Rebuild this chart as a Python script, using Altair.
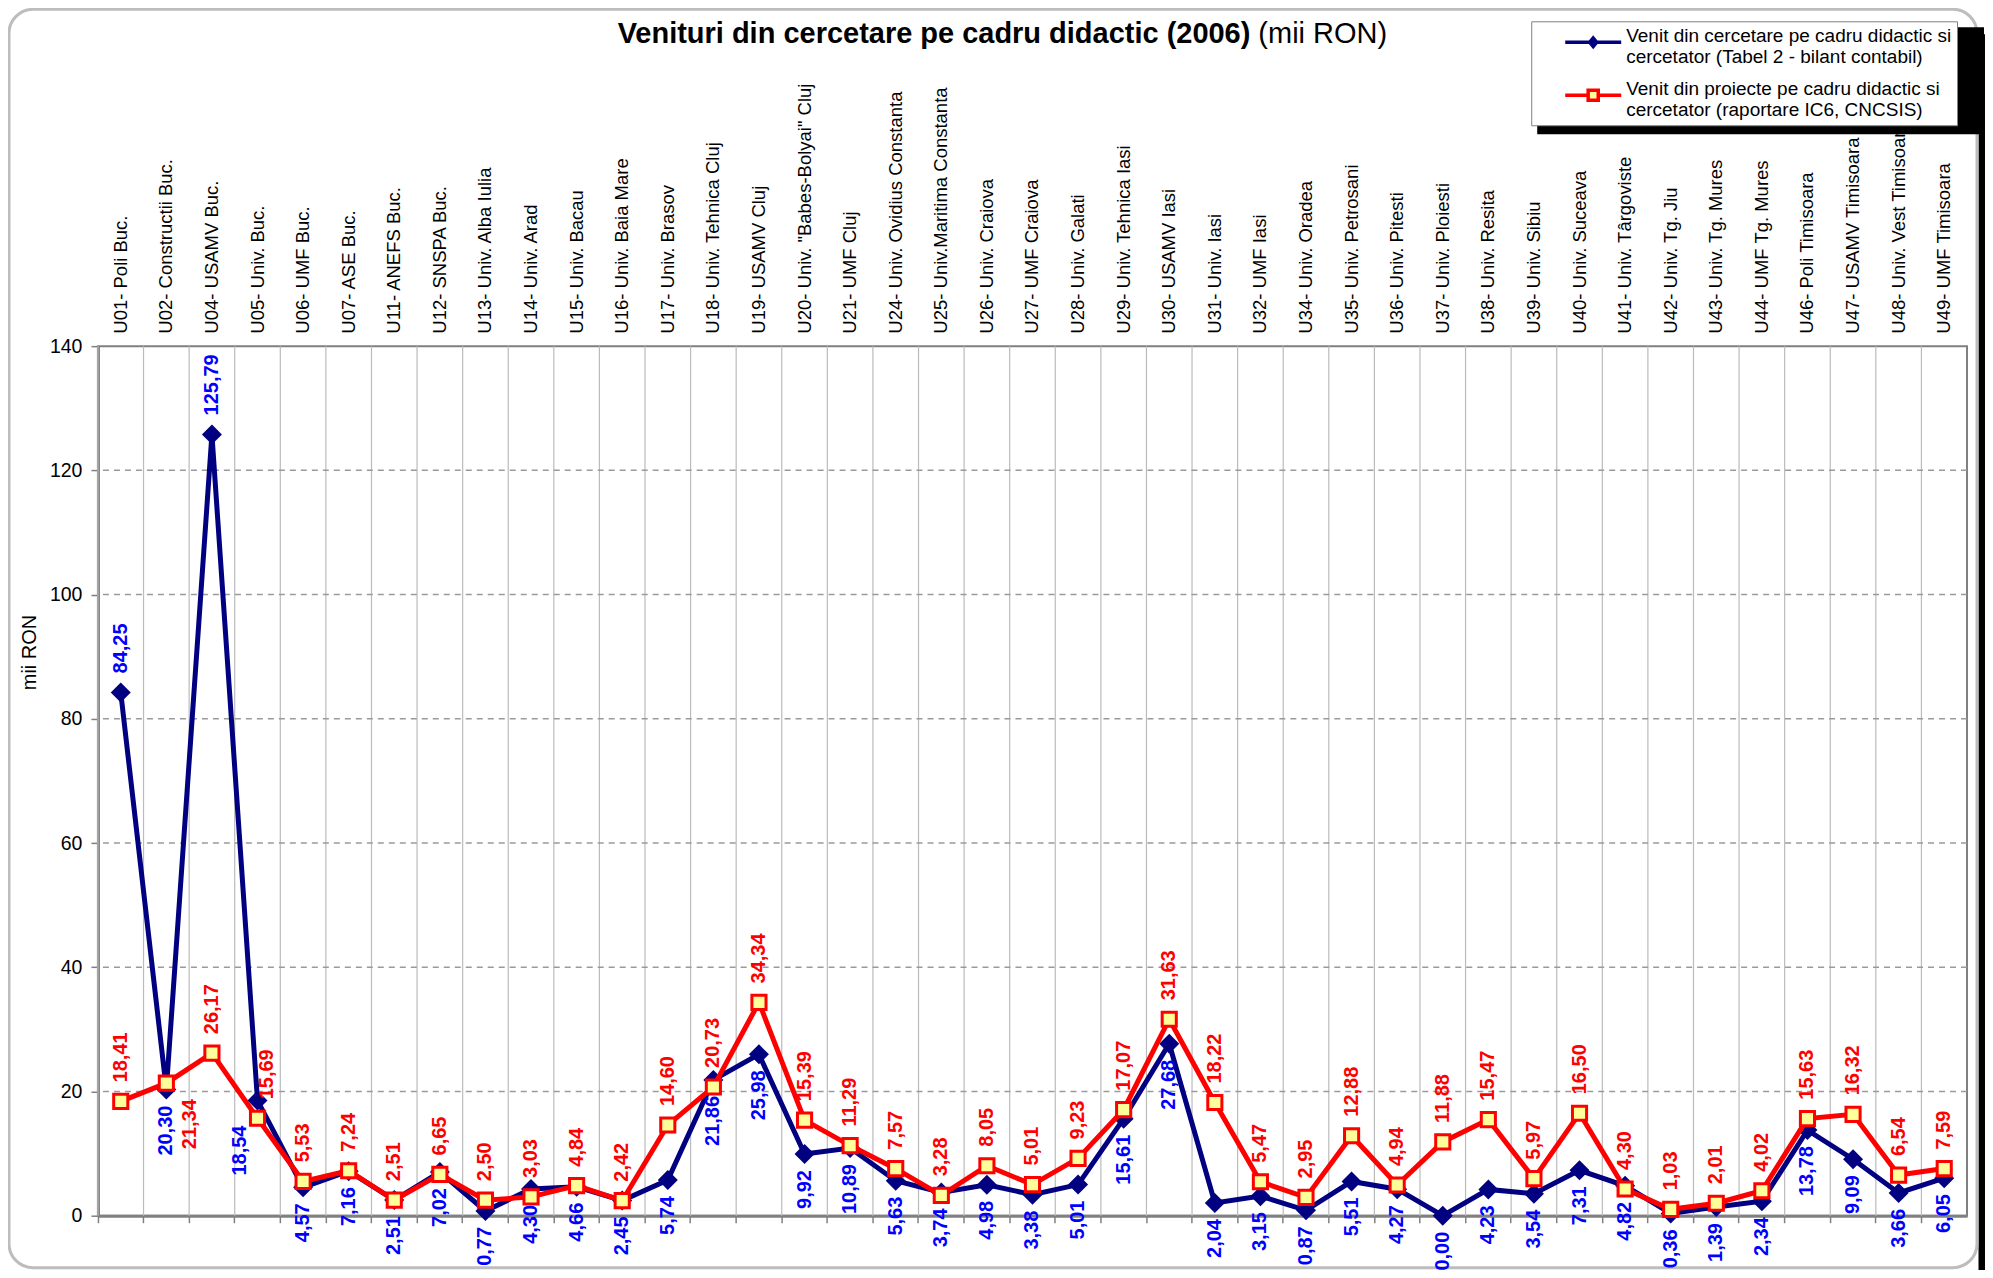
import altair as alt
import pandas as pd

categories = [
    "U01- Poli Buc.", "U02- Constructii Buc.", "U04- USAMV Buc.", "U05- Univ. Buc.",
    "U06- UMF Buc.", "U07- ASE Buc.", "U11- ANEFS Buc.", "U12- SNSPA Buc.",
    "U13- Univ. Alba Iulia", "U14- Univ. Arad", "U15- Univ. Bacau", "U16- Univ. Baia Mare",
    "U17- Univ. Brasov", "U18- Univ. Tehnica Cluj", "U19- USAMV Cluj",
    'U20- Univ. "Babes-Bolyai" Cluj', "U21- UMF Cluj", "U24- Univ. Ovidius Constanta",
    "U25- Univ.Maritima Constanta", "U26- Univ. Craiova", "U27- UMF Craiova",
    "U28- Univ. Galati", "U29- Univ. Tehnica Iasi", "U30- USAMV Iasi", "U31- Univ. Iasi",
    "U32- UMF Iasi", "U34- Univ. Oradea", "U35- Univ. Petrosani", "U36- Univ. Pitesti",
    "U37- Univ. Ploiesti", "U38- Univ. Resita", "U39- Univ. Sibiu", "U40- Univ. Suceava",
    "U41- Univ. Târgoviste", "U42- Univ. Tg. Jiu", "U43- Univ. Tg. Mures",
    "U44- UMF Tg. Mures", "U46- Poli Timisoara", "U47- USAMV Timisoara",
    "U48- Univ. Vest Timisoara", "U49- UMF Timisoara",
]

venit_cercetare = [
    84.25, 20.30, 125.79, 18.54, 4.57, 7.16, 2.51, 7.02, 0.77, 4.30, 4.66, 2.45,
    5.74, 21.86, 25.98, 9.92, 10.89, 5.63, 3.74, 4.98, 3.38, 5.01, 15.61, 27.68,
    2.04, 3.15, 0.87, 5.51, 4.27, 0.00, 4.23, 3.54, 7.31, 4.82, 0.36, 1.39, 2.34,
    13.78, 9.09, 3.66, 6.05,
]

venit_proiecte = [
    18.41, 21.34, 26.17, 15.69, 5.53, 7.24, 2.51, 6.65, 2.50, 3.03, 4.84, 2.42,
    14.60, 20.73, 34.34, 15.39, 11.29, 7.57, 3.28, 8.05, 5.01, 9.23, 17.07, 31.63,
    18.22, 5.47, 2.95, 12.88, 4.94, 11.88, 15.47, 5.97, 16.50, 4.30, 1.03, 2.01, 4.02,
    15.63, 16.32, 6.54, 7.59,
]

y_ticks = [0, 20, 40, 60, 80, 100, 120, 140]

series_names = [
    "Venit din cercetare pe cadru didactic si\ncercetator (Tabel 2 - bilant contabil)",
    "Venit din proiecte pe cadru didactic si\ncercetator (raportare IC6, CNCSIS)",
]

# label placement (Excel data labels: blue mostly below, red mostly above)
blue_labels_above = ["U01- Poli Buc.", "U04- USAMV Buc."]
blue_labels_below_left = ["U05- Univ. Buc."]
red_labels_below_right = ["U02- Constructii Buc."]
red_labels_above_right = ["U05- Univ. Buc."]

title_bold = "Venituri din cercetare pe cadru didactic (2006)"
title_rest = "(mii RON)"

FONT = "Liberation Sans"
NAVY = "#000080"
RED = "#FF0000"
YELLOW = "#FFFF99"

rows = []
for i, c in enumerate(categories):
    if c in blue_labels_above:
        bp = "above"
    elif c in blue_labels_below_left:
        bp = "below_left"
    else:
        bp = "below"
    if c in red_labels_below_right:
        rp = "below_right"
    elif c in red_labels_above_right:
        rp = "above_right"
    else:
        rp = "above"
    rows.append(dict(cat=c, series=series_names[0], value=venit_cercetare[i], pos=bp))
    rows.append(dict(cat=c, series=series_names[1], value=venit_proiecte[i], pos=rp))
df = pd.DataFrame(rows)

one = pd.DataFrame({"a": [0]})

xscale = alt.Scale(type="band", domain=categories, paddingInner=0, paddingOuter=0)
yscale = alt.Scale(domain=[0, 140], nice=False, zero=True)

top_axis = alt.Axis(orient="top", labelAngle=270, labelAlign="left", labelBaseline="middle",
                    labelPadding=13, labelFontSize=18.5, labelFont=FONT, labelColor="black",
                    labelLimit=600, labelOverlap=False, ticks=False, domain=False, grid=False,
                    title=None)
bottom_axis = alt.Axis(orient="bottom", labels=False, ticks=True, tickSize=7, tickColor="#808080",
                       tickWidth=1.5, domain=True, domainColor="#808080", domainWidth=3,
                       bandPosition=0, grid=False, title=None)
y_axis = alt.Axis(values=y_ticks, labelFontSize=19.5, labelFont=FONT, labelColor="black",
                  tickColor="#808080", tickSize=7, tickWidth=1.5, domainColor="#808080",
                  domainWidth=3, labelPadding=9, grid=False, title="mii RON",
                  titleFontSize=20, titleFont=FONT, titleFontWeight="normal", titleColor="black",
                  titleX=-58, titleY=306)

x_mid = alt.X("cat:N", scale=xscale, bandPosition=0.5, axis=None)
y_val = alt.Y("value:Q", scale=yscale, axis=y_axis)

base = alt.Chart(df).transform_calculate(lbl="replace(format(datum.value, '.2f'), '.', ',')")
blue = base.transform_filter(alt.datum.series == series_names[0])
red = base.transform_filter(alt.datum.series == series_names[1])

# decorations: rounded chart border with a shadow on the right, legend shadow, title
frame_shadow = alt.Chart(one).mark_rule(color="black", strokeWidth=7).encode(
    x=alt.value(1885), y=alt.value(-312), y2=alt.value(930))
frame = alt.Chart(one).mark_rect(fillOpacity=0, stroke="#bdbdbd", strokeWidth=3, cornerRadius=24).encode(
    x=alt.value(-89), x2=alt.value(1880), y=alt.value(-337), y2=alt.value(922))
legend_shadow = alt.Chart(one).mark_rect(color="black").encode(
    x=alt.value(1440), x2=alt.value(1887), y=alt.value(-319), y2=alt.value(-212))
t1 = alt.Chart(one).mark_text(text=title_bold, font=FONT, fontSize=29, fontWeight="bold",
                              align="right", baseline="alphabetic", color="black").encode(
    x=alt.value(1153), y=alt.value(-303))
t2 = alt.Chart(one).mark_text(text=title_rest, font=FONT, fontSize=29, fontWeight="normal",
                              align="left", baseline="alphabetic", color="black").encode(
    x=alt.value(1161), y=alt.value(-303))

vgrid = alt.Chart(pd.DataFrame({"cat": categories})).mark_rule(color="#bbbbbb", strokeWidth=1.2).encode(
    x=alt.X("cat:N", scale=xscale, bandPosition=0, axis=bottom_axis))
hgrid = alt.Chart(pd.DataFrame({"value": y_ticks[1:-1]})).mark_rule(
    color="#9a9a9a", strokeWidth=1.5, strokeDash=[6, 5]).encode(y=y_val)

blue_line = blue.mark_line(color=NAVY, strokeWidth=5).encode(
    x=alt.X("cat:N", scale=xscale, bandPosition=0.5, axis=top_axis), y=y_val)
blue_pts = blue.mark_point(shape="diamond", filled=True, color=NAVY, size=400, opacity=1).encode(
    x=x_mid, y=y_val)
red_line = red.mark_line(color=RED, strokeWidth=5).encode(x=x_mid, y=y_val)
red_pts = red.mark_point(shape="square", fill=YELLOW, stroke=RED, strokeWidth=3, size=200,
                         opacity=1, fillOpacity=1).encode(x=x_mid, y=y_val)

placements = {
    "above": dict(align="left", dx=19, dy=0),
    "above_right": dict(align="left", dx=19, dy=9),
    "below": dict(align="right", dx=-16, dy=0),
    "below_left": dict(align="right", dx=-25, dy=-18),
    "below_right": dict(align="right", dx=-16, dy=24),
}


def labels(src, color, where):
    p = placements[where]
    return src.transform_filter(alt.datum.pos == where).mark_text(
        angle=270, baseline="middle", font=FONT, fontSize=20, fontWeight="bold", color=color, **p
    ).encode(x=x_mid, y=y_val, text="lbl:N")


blue_path = "M-2,0L2,0M0,-0.3L0.25,0L0,0.3L-0.25,0Z"
red_path = "M-2,0L-0.36,0M0.36,0L2,0M-0.36,-0.36L0.36,-0.36L0.36,0.36L-0.36,0.36Z"
legend = alt.Legend(orient="none", legendX=1434, legendY=-325, title=None, labelFontSize=19,
                    labelFont=FONT, labelColor="black", labelLimit=600,
                    labelExpr="split(datum.label, '\\n')", labelBaseline="alphabetic",
                    symbolSize=784, symbolStrokeWidth=3.5, symbolOffset=41, labelOffset=17,
                    padding=5, rowPadding=12, strokeColor="#808080", fillColor="white")
legend_layer = base.transform_filter("false").mark_point(filled=True, opacity=1).encode(
    x=x_mid, y=y_val,
    shape=alt.Shape("series:N", scale=alt.Scale(domain=series_names, range=[blue_path, red_path]), legend=legend),
    fill=alt.Fill("series:N", scale=alt.Scale(domain=series_names, range=[NAVY, YELLOW]), legend=legend),
    stroke=alt.Stroke("series:N", scale=alt.Scale(domain=series_names, range=[NAVY, RED]), legend=legend),
)

chart = alt.layer(
    frame_shadow, frame, legend_shadow, t1, t2,
    vgrid, hgrid,
    blue_line, blue_pts, red_line, red_pts,
    labels(blue, "#0000FF", "above"), labels(blue, "#0000FF", "below"),
    labels(blue, "#0000FF", "below_left"),
    labels(red, RED, "above"), labels(red, RED, "above_right"), labels(red, RED, "below_right"),
    legend_layer,
).resolve_axis(x="independent").properties(
    width=1870, height=870,
    autosize=alt.AutoSizeParams(type="none"),
    padding={"left": 90, "top": 338, "right": 18, "bottom": 54},
).configure_view(stroke="#808080", strokeWidth=2)

chart.save("out.html", embed_options={"renderer": "svg", "actions": False})
